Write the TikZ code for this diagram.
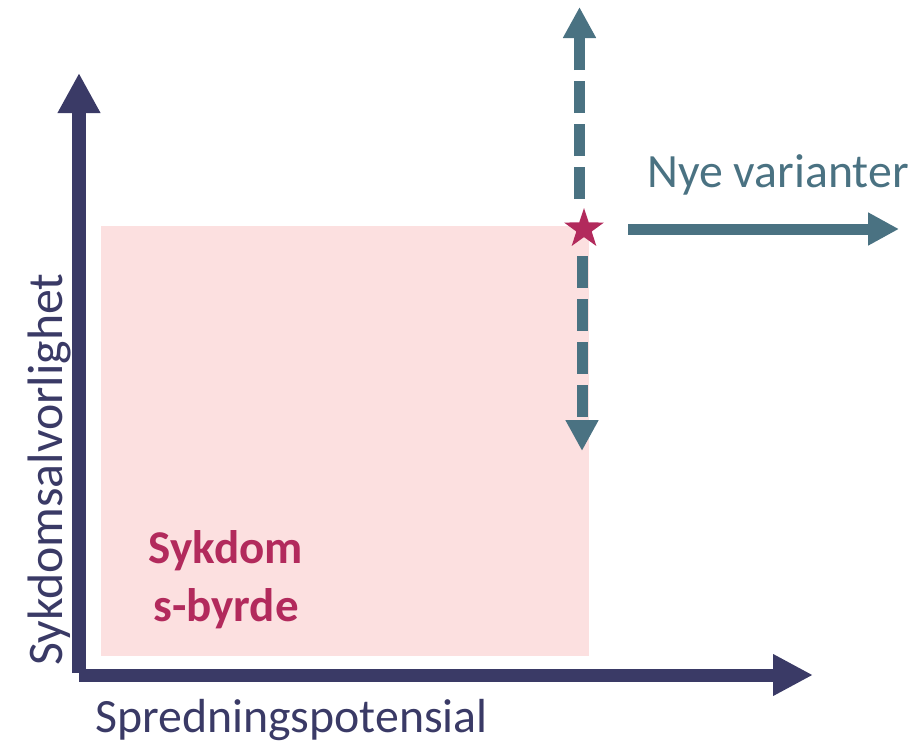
\documentclass[tikz,border=0pt]{standalone}
\usepackage{fontspec}
\setmainfont{Carlito}
\usetikzlibrary{arrows.meta,shapes.geometric}
\definecolor{axisnavy}{HTML}{3A3A66}
\definecolor{tealc}{HTML}{4A7282}
\definecolor{pinkbg}{HTML}{FCE0E0}
\definecolor{crimson}{HTML}{B22A5C}
\tikzset{
  axisarrow/.style={draw=axisnavy, line width=14pt, -{Triangle[length=40pt,width=40pt]}, color=axisnavy},
  tealarrow/.style={draw=tealc, line width=11pt, -{Triangle[length=31pt,width=31pt]}, color=tealc},
  dasharrow/.style={tealarrow, dash pattern=on 32pt off 11pt},
  lbl/.style={inner sep=0pt, font=\fontsize{47.8}{52}\selectfont},
  burden/.style={inner sep=0pt, font=\fontsize{47}{52}\selectfont\bfseries, text=crimson},
}
\begin{document}
\begin{tikzpicture}[x=1pt,y=-1pt]
\useasboundingbox (0,0) rectangle (920,745);
\fill[pinkbg] (101,226) rectangle (589,656);
% axes
\coordinate (yb) at (79,673);
\coordinate (yt) at (79,73);
\coordinate (xb) at (79,675);
\coordinate (xt) at (813,675);
\draw[axisarrow] (yb) -- (yt);
\draw[axisarrow, line width=13pt, -{Triangle[length=40pt,width=39pt]}] (xb) -- (xt);
% star
\node[star, star points=5, star point ratio=2.6, minimum size=42pt, inner sep=0pt, fill=crimson] (st) at (584,229) {};
% dashed arrows
\coordinate (ua) at (579.5,199);
\coordinate (ub) at (579.5,7);
\coordinate (la) at (582,256);
\coordinate (lb) at (582,451);
\draw[dasharrow] (ua) -- (ub);
\draw[dasharrow] (la) -- (lb);
% new variants arrow
\coordinate (na) at (628,229);
\coordinate (nb) at (899,229);
\draw[tealarrow] (na) -- (nb);
% labels
\node[lbl, text=tealc, anchor=base west] (nye) at (647,187) {Nye varianter};
\node[lbl, text=axisnavy, anchor=base west] (xl) at (95,732) {Spredningspotensial};
\node[lbl, text=axisnavy, anchor=base west, rotate=90, font=\fontsize{49.8}{54}\selectfont] (yl) at (62,666) {Sykdomsalvorlighet};
\node[burden, anchor=base] (b1) at (226,563) {Sykdom};
\node[burden, anchor=base] (b2) at (226,621) {s-byrde};
\end{tikzpicture}
\end{document}
